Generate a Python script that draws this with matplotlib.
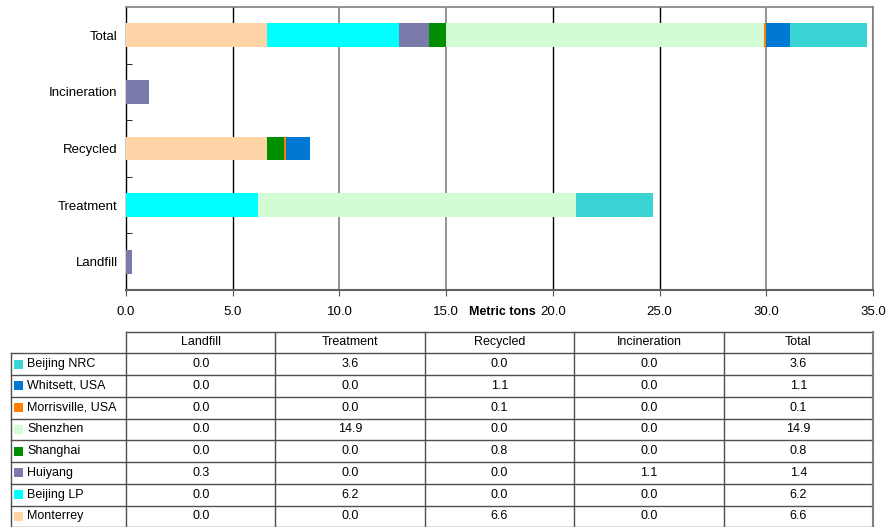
import matplotlib
matplotlib.use("Agg")
import matplotlib.pyplot as plt
import numpy as np

plt.rcParams['font.family'] = ['Liberation Sans', 'DejaVu Sans']

categories = ["Landfill", "Treatment", "Recycled", "Incineration", "Total"]
series = ["Monterrey", "Beijing LP", "Huiyang", "Shanghai", "Shenzhen",
          "Morrisville, USA", "Whitsett, USA", "Beijing NRC"]
colors = ["#FFD5A8", "#00FFFF", "#7B7BAB", "#008F00", "#D4FCD4",
          "#FF8000", "#0079D5", "#3AD4D4"]
# values per series: Landfill, Treatment, Recycled, Incineration
monterrey = [0.0, 0.0, 6.6, 0.0]
beijing_lp = [0.0, 6.2, 0.0, 0.0]
huiyang = [0.3, 0.0, 0.0, 1.1]
shanghai = [0.0, 0.0, 0.8, 0.0]
shenzhen = [0.0, 14.9, 0.0, 0.0]
morrisville = [0.0, 0.0, 0.1, 0.0]
whitsett = [0.0, 0.0, 1.1, 0.0]
beijing_nrc = [0.0, 3.6, 0.0, 0.0]
totals = [6.6, 6.2, 1.4, 0.8, 14.9, 0.1, 1.1, 3.6]
xticks = [0, 5, 10, 15, 20, 25, 30, 35]

data = [monterrey, beijing_lp, huiyang, shanghai, shenzhen, morrisville, whitsett, beijing_nrc]

W, H = 888, 527
fig = plt.figure(figsize=(W / 100, H / 100), dpi=100)

# ---- chart axes ----
ax_l, ax_r, ax_t, ax_b = 126, 873, 7, 290
ax = fig.add_axes([ax_l / W, 1 - ax_b / H, (ax_r - ax_l) / W, (ax_b - ax_t) / H])
y = np.arange(len(categories))
left = np.zeros(len(categories))
for i, (name, vals, col) in enumerate(zip(series, data, colors)):
    v = np.array(vals + [totals[i]])
    ax.barh(y, v, left=left, height=0.42, color=col, edgecolor='none', zorder=3)
    left += v

ax.set_xlim(0, 35)
ax.set_ylim(-0.5, len(categories) - 0.5)
ax.set_xticks(xticks)
ax.set_xticklabels([f"{t:.1f}" for t in xticks], fontsize=9.5)
ax.set_yticks(y)
ax.set_yticklabels(categories, fontsize=9.5)
ax.tick_params(axis='y', which='major', length=0, pad=6)
ax.set_yticks(np.arange(0.5, len(categories) - 1, 1), minor=True)
ax.tick_params(axis='y', which='minor', direction='in', length=4, color='black')
ax.tick_params(axis='x', which='major', direction='out', length=4, color='#555555', pad=7.5)

ax.grid(axis='x', zorder=0, linewidth=1.0)
grid_cols = {5: 'black', 10: '#808080', 15: '#808080', 20: 'black', 25: 'black', 30: '#808080', 35: '#808080'}
for gl, t in zip(ax.get_xgridlines(), xticks):
    gl.set_color(grid_cols.get(t, 'none'))
    gl.set_linewidth(1.2 if grid_cols.get(t) == '#808080' else 1.0)
    if t == 0:
        gl.set_visible(False)
ax.set_axisbelow(True)
for s in ['top', 'right']:
    ax.spines[s].set_color('#808080')
    ax.spines[s].set_linewidth(1.2)
ax.spines['bottom'].set_color('#606060')
ax.spines['bottom'].set_linewidth(1.5)
ax.spines['left'].set_color('black')
ax.spines['left'].set_linewidth(1.0)

fig.text(502 / W, 1 - 312 / H, "Metric tons", fontsize=9, fontweight='bold',
         ha='center', va='center')

# ---- data table ----
tax = fig.add_axes([0, 0, 1, 1])
tax.set_xlim(0, W)
tax.set_ylim(H, 0)
tax.axis('off')

col_edges = np.linspace(ax_l, ax_r, len(categories) + 1)
label_left = 11
row_top = 331.5
header_h = 21.8
row_h = 21.75
n_rows = len(series)
rows_top = row_top + header_h
bottom = rows_top + n_rows * row_h
lc = '#505050'
lw = 1.0

tax.plot([ax_l, ax_r], [row_top, row_top], color=lc, lw=lw)
for i in range(n_rows + 1):
    yy = rows_top + i * row_h
    tax.plot([label_left, ax_r], [yy, yy], color=lc, lw=lw)
tax.plot([label_left, label_left], [rows_top, bottom], color=lc, lw=lw)
for j, xx in enumerate(col_edges):
    last = j == len(col_edges) - 1
    tax.plot([xx, xx], [row_top, bottom], color='#808080' if last else lc,
             lw=1.5 if last else lw)

for j, cat in enumerate(categories):
    cx = (col_edges[j] + col_edges[j + 1]) / 2
    tax.text(cx, row_top + header_h / 2, cat, ha='center', va='center', fontsize=9)

table_order = list(range(n_rows))[::-1]
for i, si in enumerate(table_order):
    cy = rows_top + (i + 0.5) * row_h
    tax.add_patch(plt.Rectangle((14, cy - 4.5), 9, 9, color=colors[si], lw=0))
    tax.text(27, cy, series[si], ha='left', va='center', fontsize=9)
    vals = data[si] + [totals[si]]
    for j, v in enumerate(vals):
        cx = (col_edges[j] + col_edges[j + 1]) / 2
        tax.text(cx, cy, f"{v:.1f}", ha='center', va='center', fontsize=9)

fig.savefig("out.png", dpi=100)
